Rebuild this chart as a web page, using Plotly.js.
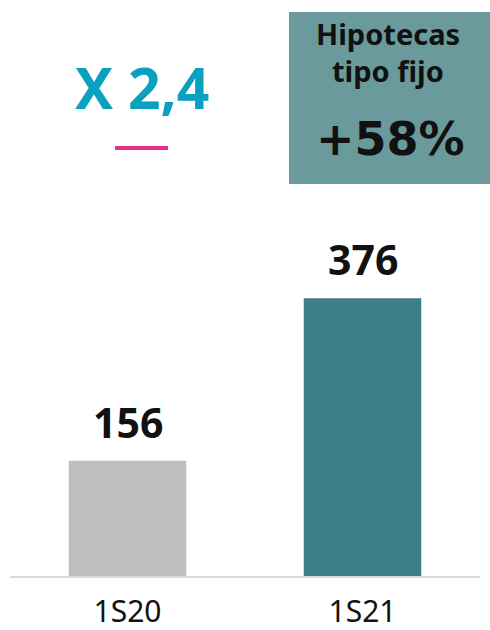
<!DOCTYPE html>
<html>
<head>
<meta charset="utf-8">
<script src="https://cdn.plot.ly/plotly-3.0.1.min.js"></script>
<style>html,body{margin:0;padding:0;background:#fff;}#chart{width:490px;height:630px;}</style>
</head>
<body>
<div id="chart"></div>
<script>
var categories = ['1S20', '1S21'];
var values = [156, 376];
var barColors = ['#bfbfbf', '#3f7f87'];
var multiplierText = 'X 2,4';
var boxTitle = ['Hipotecas', 'tipo fijo'];
var boxValue = '+58%';

var FONT = 'Noto Sans, Open Sans, sans-serif';

var trace = {
  type: 'bar',
  x: categories,
  y: values,
  marker: {color: barColors},
  width: 0.5,
  hoverinfo: 'none'
};

var annotations = values.map(function (v, i) {
  return {
    x: categories[i], y: v, xref: 'x', yref: 'y',
    text: '<b>' + String(v) + '</b>', showarrow: false,
    yanchor: 'bottom', yshift: 9,
    font: {family: FONT, size: 41, color: '#111'}
  };
});

annotations.push({
  x: 0.281, y: 0.849, xref: 'paper', yref: 'paper',
  text: '<b>' + multiplierText + '</b>', showarrow: false,
  xanchor: 'center', yanchor: 'middle',
  font: {family: FONT, size: 57, color: '#0aa0bf'}
});
annotations.push({
  x: 0.8053, y: 0.941, xref: 'paper', yref: 'paper',
  text: '<b>' + boxTitle[0] + '</b>', showarrow: false,
  xanchor: 'center', yanchor: 'middle',
  font: {family: FONT, size: 29, color: '#111'}
});
annotations.push({
  x: 0.8053, y: 0.878, xref: 'paper', yref: 'paper',
  text: '<b>' + boxTitle[1] + '</b>', showarrow: false,
  xanchor: 'center', yanchor: 'middle',
  font: {family: FONT, size: 29, color: '#111'}
});
annotations.push({
  x: 0.8106, y: 0.758, xref: 'paper', yref: 'paper',
  text: '<b>' + boxValue + '</b>', showarrow: false,
  xanchor: 'center', yanchor: 'middle',
  font: {family: 'DejaVu Sans, sans-serif', size: 46, color: '#111'}
});

var layout = {
  width: 490, height: 630,
  margin: {l: 10, r: 10, t: 0, b: 54, pad: 0},
  paper_bgcolor: '#fff', plot_bgcolor: '#fff',
  showlegend: false,
  font: {family: FONT},
  xaxis: {
    type: 'category', range: [-0.5, 1.5],
    showline: true, linecolor: '#d9d9d9', linewidth: 2,
    showgrid: false, zeroline: false, ticks: '',
    ticklabelstandoff: 8,
    tickfont: {family: FONT, size: 30, color: '#111'},
    fixedrange: true
  },
  yaxis: {
    range: [0, 780], visible: false, showgrid: false, zeroline: false, fixedrange: true
  },
  shapes: [
    {type: 'rect', xref: 'paper', yref: 'paper', x0: 0.5936, x1: 1.03, y0: 0.6806, y1: 0.979,
     fillcolor: '#6a9a9c', line: {width: 0}, layer: 'below'},
    {type: 'line', xref: 'paper', yref: 'paper', x0: 0.2234, x1: 0.3362, y0: 0.743, y1: 0.743,
     line: {color: '#e4308f', width: 4}}
  ],
  annotations: annotations
};

Plotly.newPlot('chart', [trace], layout, {displayModeBar: false, staticPlot: true});
</script>
</body>
</html>
